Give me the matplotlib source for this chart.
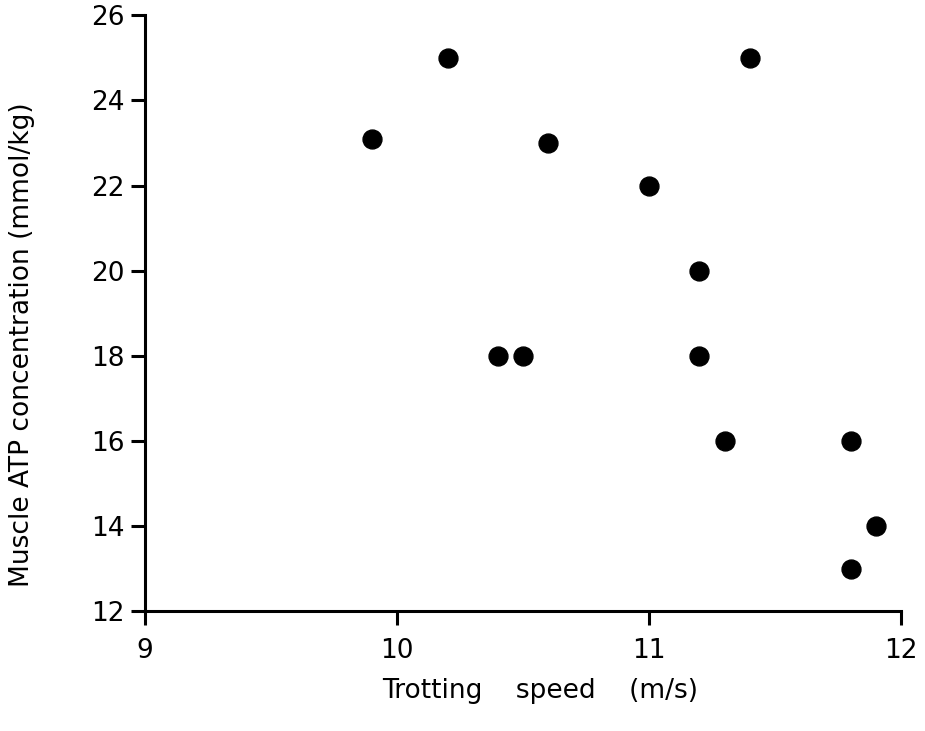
import matplotlib.pyplot as plt

# Trotting speed (m/s) vs muscle ATP concentration (mmol/kg)
speed = [9.9, 10.2, 10.6, 11.4, 11.0, 11.2, 10.4, 10.5, 11.2, 11.3, 11.8, 11.9, 11.8]
atp = [23.1, 25, 23, 25, 22, 20, 18, 18, 18, 16, 16, 14, 13]

x_ticks = [9, 10, 11, 12]
y_ticks = [12, 14, 16, 18, 20, 22, 24, 26]

fig = plt.figure(figsize=(9.25, 7.31), dpi=100)
ax = fig.add_axes([0.157, 0.164, 0.817, 0.815])

ax.scatter(speed, atp, s=185, color='black', zorder=3, clip_on=False)

ax.set_xlim(9, 12)
ax.set_ylim(12, 26)
ax.set_xticks(x_ticks)
ax.set_yticks(y_ticks)

for side in ['top', 'right']:
    ax.spines[side].set_visible(False)
for side in ['left', 'bottom']:
    ax.spines[side].set_linewidth(2.2)

ax.tick_params(direction='out', length=10, width=2.2, labelsize=19, pad=5)
ax.tick_params(axis='x', pad=9)

fig.text(0.584, 0.055, "Trotting    speed    (m/s)", ha='center', va='center', fontsize=19)
fig.text(0.024, 0.528, "Muscle ATP concentration (mmol/kg)", ha='center', va='center',
         rotation=90, fontsize=19)

fig.savefig("out.png", dpi=100)
